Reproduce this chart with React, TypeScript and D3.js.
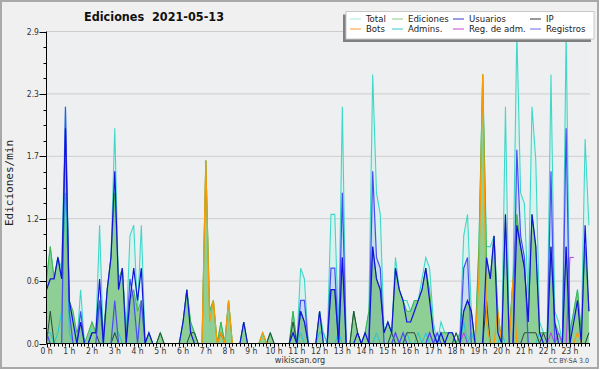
import React from "react";
import * as d3 from "d3";

// 10-minute intervals, 144 points (0h00 .. 23h50), values in edits/min
const hourLabels = d3.range(24).map((h) => `${h} h`);
const yTickValues = [0, 0.58, 1.16, 1.74, 2.32, 2.9];
const yTickLabels = ["0.0", "0.6", "1.2", "1.7", "2.3", "2.9"];

const total = [
  0.6, 0.9, 0.6, 0.8, 0.7, 2.2, 0.4, 0.2, 0, 0.5, 0, 0,
  0.2, 0.1, 1.1, 0, 0.5, 0.8, 2.0, 0.5, 0.7, 0.1, 1.0, 1.1,
  0.3, 1.1, 0, 0.1, 0, 0, 0.1, 0, 0, 0, 0, 0,
  0.2, 0.5, 0.2, 0.1, 0, 0, 1.7, 0.3, 0.4, 0, 0.2, 0,
  0.4, 0, 0, 0, 0.2, 0, 0, 0, 0, 0.1, 0, 0.1,
  0, 0, 0, 0, 0, 0.3, 0, 0.7, 0.6, 0, 0, 0,
  0.3, 0.1, 0, 1.2, 1.2, 0.1, 2.2, 0, 0, 0.3, 0.1, 0,
  0.1, 0.3, 2.5, 1.4, 1.2, 0.1, 0.2, 0.1, 0.8, 0.5, 0.4, 0.4,
  0.3, 0.4, 0.4, 0.6, 0.8, 0.7, 0.2, 0, 0.2, 0.1, 0.1, 0.1,
  0, 0.1, 1.0, 1.2, 0.3, 0, 0.9, 2.5, 0.9, 0.9, 1.0, 0.3,
  0, 2.2, 0.1, 0.6, 2.9, 1.4, 1.3, 0.4, 2.2, 1.7, 0.2, 0.1,
  0.1, 2.5, 0.3, 0.2, 0, 2.9, 0.1, 0.3, 0.5, 0.1, 1.9, 1.1,
];

const ediciones = [
  0.6, 0.9, 0.6, 0.8, 0.6, 1.4, 0.4, 0.3, 0.1, 0.2, 0, 0.1,
  0.2, 0.1, 0.4, 0.1, 0.5, 0.8, 1.4, 0.6, 0.7, 0.1, 0.4, 0.5,
  0.3, 0.4, 0, 0.1, 0, 0, 0.1, 0, 0, 0, 0, 0,
  0.2, 0.5, 0.2, 0.1, 0, 0, 1.7, 0.3, 0.4, 0, 0.2, 0,
  0.4, 0, 0, 0, 0.2, 0, 0, 0, 0, 0.1, 0, 0.1,
  0, 0, 0, 0, 0, 0.3, 0, 0.3, 0.2, 0, 0, 0,
  0.3, 0, 0, 0.5, 0.5, 0, 0.8, 0, 0, 0.3, 0.1, 0,
  0.1, 0.3, 0.9, 0.6, 0.5, 0.1, 0.2, 0.1, 0.7, 0.5, 0.4, 0.3,
  0.3, 0.4, 0.4, 0.5, 0.7, 0.5, 0.1, 0, 0.1, 0.1, 0.1, 0.1,
  0, 0.1, 0.3, 0.4, 0.3, 0, 0.9, 2.5, 0.8, 0.6, 1.0, 0.3,
  0, 1.2, 0.1, 0.6, 1.2, 0.9, 0.7, 0.2, 1.2, 0.9, 0.1, 0.1,
  0.1, 0.9, 0.2, 0.1, 0, 0.9, 0.1, 0.3, 0.5, 0.1, 0.9, 0.3,
];

const usuarios = [
  0.5, 0.6, 0.6, 0.8, 0.6, 2.0, 0.4, 0.2, 0, 0.2, 0, 0,
  0.1, 0.1, 0.6, 0, 0.5, 0.8, 1.6, 0.5, 0.7, 0, 0.4, 0.7,
  0.4, 0.7, 0, 0.1, 0, 0, 0, 0, 0, 0, 0, 0,
  0.2, 0.5, 0.1, 0, 0, 0, 0, 0, 0, 0, 0, 0,
  0, 0, 0, 0, 0.2, 0, 0, 0, 0, 0, 0, 0,
  0, 0, 0, 0, 0, 0.1, 0, 0.3, 0.2, 0, 0, 0,
  0.3, 0, 0, 0.5, 0.5, 0, 0.8, 0, 0, 0, 0.1, 0,
  0.1, 0, 0.9, 0.6, 0.5, 0.1, 0.2, 0.1, 0.7, 0.5, 0.4, 0.2,
  0.2, 0.3, 0.4, 0.5, 0.7, 0.4, 0.1, 0, 0.1, 0, 0.1, 0.1,
  0, 0, 0.3, 0.4, 0.3, 0, 0, 0, 0.8, 0.6, 1.0, 0.1,
  0, 1.2, 0, 0, 1.1, 0.9, 0.7, 0.2, 1.2, 0.9, 0.1, 0,
  0, 0.9, 0.2, 0, 0, 0.9, 0, 0.2, 0.4, 0, 1.1, 0.3,
];

const ip = [
  0, 0.3, 0, 0, 0, 0, 0, 0, 0, 0, 0, 0,
  0.1, 0.1, 0, 0, 0, 0, 0.1, 0, 0, 0, 0, 0,
  0, 0, 0, 0, 0, 0, 0.1, 0, 0, 0, 0, 0,
  0, 0, 0.1, 0.1, 0, 0, 0, 0, 0, 0, 0.1, 0,
  0, 0, 0, 0, 0, 0, 0, 0, 0, 0, 0, 0.1,
  0, 0, 0, 0, 0, 0.2, 0, 0, 0, 0, 0, 0,
  0, 0, 0, 0, 0, 0, 0, 0, 0, 0.3, 0.1, 0,
  0, 0, 0, 0, 0, 0, 0, 0.1, 0, 0, 0, 0.1,
  0.1, 0.1, 0, 0, 0, 0, 0, 0, 0, 0, 0, 0,
  0.1, 0, 0, 0, 0, 0, 0, 0, 0.4, 0, 0, 0,
  0, 0, 0, 0, 0, 0, 0.1, 0.1, 0.1, 0.1, 0, 0.1,
  0, 0, 0, 0, 0, 0, 0, 0, 0, 0, 0, 0.1,
];

const bots = [
  0, 0, 0, 0, 0, 0, 0, 0, 0, 0, 0, 0,
  0, 0, 0, 0, 0, 0, 0, 0, 0, 0, 0, 0,
  0, 0, 0, 0, 0, 0, 0, 0, 0, 0, 0, 0,
  0, 0, 0, 0, 0, 0, 1.7, 0.2, 0.4, 0, 0.1, 0,
  0.4, 0, 0, 0, 0, 0, 0, 0, 0, 0.1, 0, 0,
  0, 0, 0, 0, 0, 0, 0, 0, 0, 0, 0, 0,
  0, 0, 0, 0, 0, 0, 0, 0, 0, 0, 0, 0,
  0, 0, 0, 0, 0, 0, 0, 0, 0, 0, 0, 0,
  0, 0, 0, 0, 0, 0, 0, 0, 0, 0, 0, 0,
  0, 0, 0, 0, 0, 0, 0.6, 2.5, 0.2, 0, 0, 0.3,
  0, 0, 0, 0.6, 0, 0, 0, 0, 0, 0, 0, 0,
  0, 0, 0, 0, 0, 0, 0, 0, 0.1, 0, 0, 0,
];

const admins = [
  0.1, 0.1, 0, 0.1, 0.3, 1.7, 0.1, 0, 0, 0, 0, 0,
  0, 0, 0, 0, 0, 0, 0.1, 0.1, 0, 0, 0, 0,
  0, 0, 0, 0, 0, 0, 0, 0, 0, 0, 0, 0,
  0, 0, 0, 0, 0, 0, 0, 0, 0, 0, 0, 0,
  0, 0, 0, 0, 0, 0, 0, 0, 0, 0, 0, 0,
  0, 0, 0, 0, 0, 0.1, 0, 0.1, 0, 0, 0, 0,
  0.1, 0.1, 0, 0, 0, 0.1, 0, 0, 0, 0, 0, 0,
  0, 0, 0, 0.1, 0, 0, 0, 0.1, 0, 0, 0, 0.1,
  0, 0, 0.1, 0, 0.1, 0, 0, 0, 0.1, 0, 0, 0,
  0.1, 0, 0.2, 0, 0.1, 0, 0, 0, 0, 0, 0, 0,
  0.1, 0, 0, 0, 0, 0, 0, 0, 0, 0, 0.1, 0,
  0, 0, 0, 0.1, 0, 0, 0, 0, 0, 0, 0, 0.1,
];

const regAdm = [
  ...new Array(92).fill(0),
  0.1, 0, 0, 0, 0, 0, 0, 0, 0, 0.1, 0, 0,
  0, 0, 0, 0, 0, 0, 0.1, 0, 0, 0, 0, 0,
  0, 0, 0, 0, 0, 0, 0, 0, 0, 0, 0, 0,
  0, 0, 0, 0, 0, 0.1, 0, 0.1, 0, 0, 0.8, 0.8,
];

const registros = [
  0.1, 0, 0, 0, 0, 2.2, 0.3, 0, 0, 0.3, 0, 0,
  0, 0, 0.4, 0, 0, 0, 0.4, 0, 0, 0, 0.6, 0.4,
  0, 0.4, 0, 0, 0, 0, 0, 0, 0, 0, 0, 0,
  0, 0, 0, 0, 0, 0, 0, 0, 0, 0, 0, 0,
  0, 0, 0, 0, 0, 0, 0, 0, 0, 0, 0, 0,
  0, 0, 0, 0, 0, 0, 0, 0.4, 0.4, 0, 0, 0,
  0, 0, 0, 0.7, 0.7, 0, 1.4, 0, 0, 0, 0, 0,
  0, 0, 1.6, 0.8, 0.7, 0, 0, 0, 0.1, 0, 0.1, 0,
  0, 0, 0, 0, 0, 0.1, 0, 0.1, 0, 0, 0, 0,
  0, 0, 0.7, 0.8, 0, 0, 0, 0, 0, 0, 0, 0,
  0, 0, 0, 0, 1.8, 1.0, 0.8, 0, 0, 0, 0, 0,
  0, 1.6, 0, 0, 0, 2.0, 0, 0, 0, 0, 0, 0,
];

const legendItems = [
  { label: "Total", color: "#a6eadf" },
  { label: "Ediciones", color: "#86cc86" },
  { label: "Usuarios", color: "#3434cc" },
  { label: "IP", color: "#333333" },
  { label: "Bots", color: "#ff9a30" },
  { label: "Admins.", color: "#33cccc" },
  { label: "Reg. de adm.", color: "#cc44cc" },
  { label: "Registros", color: "#6868ee" },
];

const W = 600;
const H = 370;
const LEFT = 46.5;
const RIGHT = 590;
const TOP = 31.5;
const BOTTOM = 343.5;
const COND = "'DejaVu Sans Condensed', 'DejaVu Sans', sans-serif";

export default function App() {
  const x = d3.scaleLinear().domain([0, 144]).range([LEFT, LEFT + 144 * 3.793]);
  const y = d3.scaleLinear().domain([0, 2.9]).range([BOTTOM, TOP]);

  const line = d3
    .line<number>()
    .x((_, i) => x(i))
    .y((d) => y(d))
    .curve(d3.curveLinear);
  const area = d3
    .area<number>()
    .x((_, i) => x(i))
    .y0(BOTTOM)
    .y1((d) => y(d))
    .curve(d3.curveLinear);

  const minorY = d3.range(0, 21).map((k) => (2.9 * k) / 20);
  const minorX = d3.range(0, 144);

  const colX = [350, 392, 453, 530];
  const rowY = [19, 29];

  return (
    <div style={{ position: "absolute", left: 0, top: 0 }}>
      <svg width={W} height={H} style={{ display: "block" }}>
        <rect x={1} y={1} width={W - 3} height={H - 3} fill="#f0f0f0" stroke="#a9a9a9" strokeWidth={2} />
        <rect x={LEFT} y={TOP} width={RIGHT - LEFT} height={BOTTOM - TOP} fill="#eeeff1" />

        {/* grid */}
        {yTickValues.slice(1).map((v) => (
          <line key={"g" + v} x1={LEFT} x2={RIGHT} y1={y(v)} y2={y(v)} stroke="#cdcdcd" strokeWidth={1} />
        ))}

        {/* areas */}
        <path d={area(total) || ""} fill="#d3f2ee" fillOpacity={0.8} />
        <path d={area(registros) || ""} fill="#8ea0ff" fillOpacity={0.25} />
        <path d={area(ediciones) || ""} fill="#5cb85c" fillOpacity={0.6} />

        {/* lines */}
        <path d={line(total) || ""} fill="none" stroke="#3fd8c8" strokeWidth={1.1} />
        <path d={line(ediciones) || ""} fill="none" stroke="#44b444" strokeWidth={1} />
        <path d={line(admins) || ""} fill="none" stroke="#22c6d6" strokeWidth={1} />
        <path d={line(ip) || ""} fill="none" stroke="#2c4a38" strokeWidth={1} />
        <path d={line(regAdm) || ""} fill="none" stroke="#b040e6" strokeWidth={1} />
        <path d={line(bots) || ""} fill="none" stroke="#ff9900" strokeWidth={1.2} />
        <path d={line(registros) || ""} fill="none" stroke="#4a4cf4" strokeWidth={1.2} />
        <path d={line(usuarios) || ""} fill="none" stroke="#1212d8" strokeWidth={1.2} />

        {/* axes */}
        <line x1={LEFT} x2={LEFT} y1={TOP} y2={BOTTOM} stroke="#000" strokeWidth={1} />
        <line x1={LEFT} x2={RIGHT} y1={BOTTOM} y2={BOTTOM} stroke="#000" strokeWidth={1} />
        {minorY.map((v, k) => (
          <line
            key={"my" + k}
            x1={LEFT - (k % 4 === 0 ? 7 : 3)}
            x2={LEFT}
            y1={Math.round(y(v)) + 0.5}
            y2={Math.round(y(v)) + 0.5}
            stroke="#000"
            strokeWidth={1}
          />
        ))}
        {yTickValues.map((v, k) => (
          <text
            key={"yl" + k}
            x={39}
            y={y(v) + 3}
            textAnchor="end"
            fontFamily={COND}
            fontSize={8.5}
            fill="#333"
          >
            {yTickLabels[k]}
          </text>
        ))}
        {minorX.map((i) => (
          <line
            key={"mx" + i}
            x1={Math.round(x(i)) + 0.5}
            x2={Math.round(x(i)) + 0.5}
            y1={BOTTOM}
            y2={BOTTOM + (i % 6 === 0 ? 4 : 3)}
            stroke="#000"
            strokeWidth={1}
          />
        ))}
        {hourLabels.map((h, k) => (
          <text
            key={"xl" + k}
            x={x(k * 6)}
            y={354}
            textAnchor="middle"
            fontFamily={COND}
            fontSize={8.5}
            fill="#333"
          >
            {h}
          </text>
        ))}

        {/* titles */}
        <text x={154} y={20.5} textAnchor="middle" fontFamily={COND} fontWeight="bold" fontSize={12.5} fill="#111">
          Ediciones{"\u00a0\u00a0"}2021-05-13
        </text>
        <text
          transform="translate(13,183) rotate(-90)"
          textAnchor="middle"
          fontFamily="'DejaVu Sans Mono', monospace"
          fontSize={11}
          fill="#222"
        >
          Ediciones/min
        </text>
        <text x={300} y={363} textAnchor="middle" fontFamily={COND} fontSize={9} fill="#333">
          wikiscan.org
        </text>
        <text x={589} y={363} textAnchor="end" fontFamily={COND} fontSize={7} fill="#444">
          CC BY-SA 3.0
        </text>

        {/* legend */}
        <rect x={343} y={14.5} width={248} height={27.5} fill="#808080" />
        <rect x={346} y={11.5} width={248} height={27.5} fill="#ffffff" stroke="#c8c8c8" strokeWidth={1} />
        {legendItems.map((it, k) => {
          const cx = colX[k % 4];
          const cy = rowY[Math.floor(k / 4)];
          return (
            <g key={"lg" + k}>
              <line x1={cx} x2={cx + 11} y1={cy} y2={cy} stroke={it.color} strokeWidth={1} />
              <text x={cx + 16} y={cy + 3} fontFamily={COND} fontSize={9.5} fill="#222">
                {it.label}
              </text>
            </g>
          );
        })}
      </svg>
    </div>
  );
}
